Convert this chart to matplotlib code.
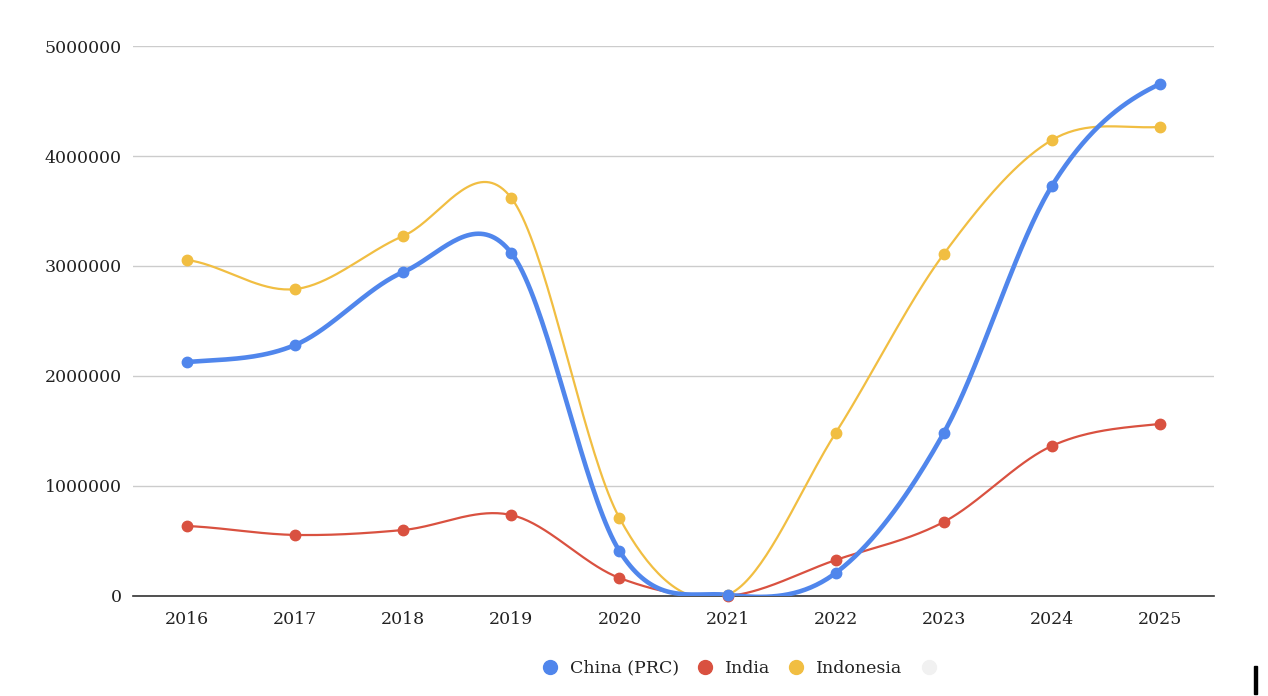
import numpy as np
import matplotlib
matplotlib.use("Agg")
import matplotlib.pyplot as plt
from matplotlib.lines import Line2D
from matplotlib.patches import Rectangle

# ---------- dados ----------
anos = [2016, 2017, 2018, 2019, 2020, 2021, 2022, 2023, 2024, 2025]
china = [2127000, 2282000, 2945000, 3118000, 409000, 10000, 209000, 1482000, 3727000, 4655000]
india = [636000, 555000, 600000, 736000, 164000, 0, 327000, 673000, 1364000, 1564000]
indonesia = [3055000, 2790000, 3273000, 3618000, 709000, 10000, 1482000, 3109000, 4145000, 4264000]
y_ticks = [0, 1000000, 2000000, 3000000, 4000000, 5000000]

cor_china = '#5086ec'
cor_india = '#d95140'
cor_indonesia = '#f1be42'


# ---------- curva suave (Catmull-Rom) ----------
def suavizar(x, y, n=40):
    x = np.asarray(x, float)
    y = np.asarray(y, float)
    xs, ys = [], []
    for i in range(len(x) - 1):
        m0 = (y[i + 1] - y[i - 1]) / 2 if i > 0 else 0.5 * (y[1] - y[0])
        m1 = (y[i + 2] - y[i]) / 2 if i + 2 < len(y) else 0.5 * (y[-1] - y[-2])
        t = np.linspace(0, 1, n)
        h00 = 2 * t**3 - 3 * t**2 + 1
        h10 = t**3 - 2 * t**2 + t
        h01 = -2 * t**3 + 3 * t**2
        h11 = t**3 - t**2
        xs.append(x[i] + t * (x[i + 1] - x[i]))
        ys.append(h00 * y[i] + h10 * m0 + h01 * y[i + 1] + h11 * m1)
    return np.concatenate(xs), np.concatenate(ys)


plt.rcParams['font.family'] = ['DejaVu Serif']
fig = plt.figure(figsize=(12.68, 6.96), dpi=100)
ax = fig.add_axes([0.1049, 0.1437, 0.8525, 0.7902])

series = [
    (indonesia, cor_indonesia, 1.6, 'Indonesia'),
    (india, cor_india, 1.6, 'India'),
    (china, cor_china, 3.3, 'China (PRC)'),
]
for valores, cor, lw, nome in series:
    xs, ys = suavizar(anos, valores)
    ax.plot(xs, ys, color=cor, lw=lw, solid_capstyle='round', zorder=3)
    ax.plot(anos, valores, 'o', color=cor, ms=7.5, zorder=4, clip_on=False)

ax.set_xlim(2015.5, 2025.5)
ax.set_ylim(0, 5000000)
ax.set_xticks(anos)
ax.set_xticklabels([str(a) for a in anos])
ax.set_yticks(y_ticks)
ax.set_yticklabels([str(v) for v in y_ticks])
ax.grid(axis='y', color='#cccccc', lw=1)
ax.set_axisbelow(True)
for s in ['top', 'right', 'left']:
    ax.spines[s].set_visible(False)
ax.spines['bottom'].set_color('#333333')
ax.spines['bottom'].set_linewidth(1.2)
ax.spines['bottom'].set_zorder(2)
ax.tick_params(length=0, labelsize=12.5, colors='#222222')
ax.tick_params(axis='y', pad=8)
ax.tick_params(axis='x', pad=11)

handles = [
    Line2D([], [], marker='o', ls='', color=cor_china, ms=10),
    Line2D([], [], marker='o', ls='', color=cor_india, ms=10),
    Line2D([], [], marker='o', ls='', color=cor_indonesia, ms=10),
    Line2D([], [], marker='o', ls='', color='#f1f1f1', ms=10),
]
fig.legend(handles, ['China (PRC)', 'India', 'Indonesia', ''], loc='center',
           bbox_to_anchor=(0.584, 0.04), ncol=4, frameon=False, fontsize=12.5,
           handletextpad=0.15, columnspacing=0.5, labelcolor='#222222')

# barra preta no canto inferior direito
fig.patches.append(Rectangle((1254 / 1268, 0.003), 3 / 1268, 28 / 696,
                             transform=fig.transFigure, color='black'))

fig.savefig('out.png', dpi=100)
